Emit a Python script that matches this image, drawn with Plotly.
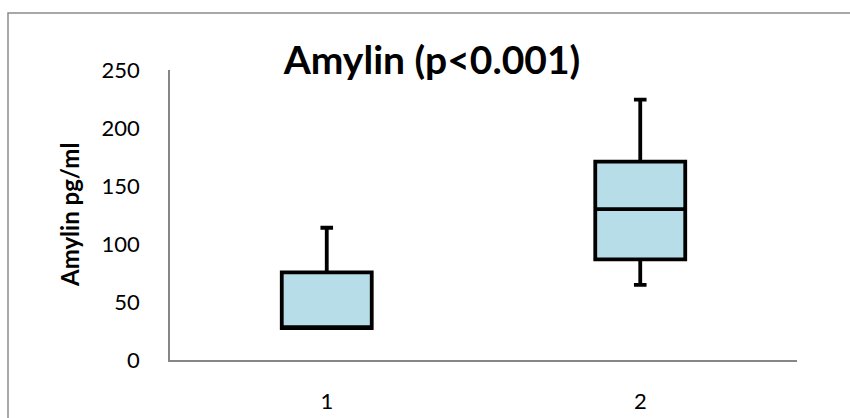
import plotly.graph_objects as go

# Amylin concentration per group (pg/ml), five-number summaries
groups = ["1", "2"]
lower_whisker = [27.5, 64.7]
q1_values = [27.5, 86.8]
medians = [27.5, 130.0]
q3_values = [75.6, 171.0]
upper_whisker = [114.0, 224.5]
y_ticks = [0, 50, 100, 150, 200, 250]

FONT = "Lato"
AXIS_GREY = "#868686"

fig = go.Figure()
fig.add_trace(
    go.Box(
        x=groups,
        q1=q1_values,
        median=medians,
        q3=q3_values,
        lowerfence=lower_whisker,
        upperfence=upper_whisker,
        fillcolor="#B7DDE8",
        line=dict(color="black", width=3.8),
        width=0.287,
        whiskerwidth=0.14,
        boxpoints=False,
        hoverinfo="skip",
        showlegend=False,
    )
)

# outer chart frame: an open path along its left and top edges
fl = (8 - 170) / 627
ft = (360 - 13) / 290
fr = (850 - 170) / 627
fb = (360 - 418) / 290
fig.add_shape(
    type="path", xref="paper", yref="paper",
    path=f"M {fl},{fb} L {fl},{ft} L {fr},{ft}",
    line=dict(color="#8C8C8C", width=1.5), fillcolor="rgba(0,0,0,0)",
    layer="below",
)

# rotated value-axis title
fig.add_annotation(
    text="<b>Amylin pg/ml</b>", textangle=-90,
    xref="paper", yref="paper",
    x=(69 - 170) / 627, y=(360 - 215) / 290,
    xanchor="center", yanchor="middle", showarrow=False,
    font=dict(family=FONT, size=24, color="black"),
)

fig.update_layout(
    width=850, height=418,
    margin=dict(l=170, r=53, t=70, b=58),
    paper_bgcolor="white", plot_bgcolor="white",
    title=dict(
        text="<b>Amylin (p<0.001)</b>",
        xref="container", yref="container",
        x=432 / 850, y=1 - 60 / 418, xanchor="center", yanchor="middle",
        font=dict(family=FONT, size=39, color="black"),
    ),
    xaxis=dict(
        type="category", range=[-0.5, 1.5], automargin=False,
        showline=True, linecolor=AXIS_GREY, linewidth=1.5,
        showgrid=False, zeroline=False, ticks="",
        ticklabelstandoff=21,
        tickfont=dict(family=FONT, size=22, color="black"),
    ),
    yaxis=dict(
        range=[0, 250], tickvals=y_ticks, automargin=False,
        showline=True, linecolor=AXIS_GREY, linewidth=1.5,
        showgrid=False, zeroline=False, ticks="",
        ticklabelstandoff=24,
        tickfont=dict(family=FONT, size=22, color="black"),
    ),
)

fig.write_html("out.html")
